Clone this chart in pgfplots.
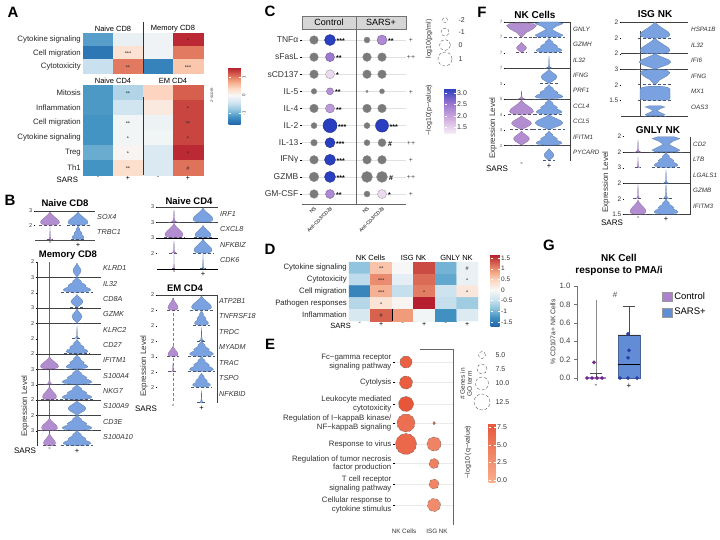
\documentclass[border=0pt]{standalone}
\usepackage{fontspec}
\setmainfont{Liberation Sans}
\setsansfont{Liberation Sans}
\usepackage{pgfplots}
\pgfplotsset{compat=1.18}
\usepackage{pgfplotstable}

\definecolor{vpur}{RGB}{178,142,208}
\definecolor{vblu}{RGB}{122,162,224}
\definecolor{gpur}{RGB}{172,130,206}
\definecolor{gblu}{RGB}{98,140,214}
\definecolor{dgray}{RGB}{122,122,122}
\definecolor{hdr}{RGB}{214,214,214}
\definecolor{cdot}{RGB}{110,40,140}
\definecolor{sdot}{RGB}{40,62,168}

\tikzset{glab/.style={anchor=west, font=\fontsize{7.2}{8}\selectfont\itshape, text=black!80, inner sep=0pt},
  glabs/.style={anchor=west, font=\fontsize{6.3}{7}\selectfont\itshape, text=black!80, inner sep=0pt}}

\pgfplotsset{
  colormap={rdbu}{rgb255=(33,102,172) rgb255=(67,147,195) rgb255=(146,197,222) rgb255=(209,229,240) rgb255=(247,247,247) rgb255=(253,219,199) rgb255=(244,165,130) rgb255=(214,96,77) rgb255=(178,24,43)},
  colormap={pv}{rgb255=(246,234,246) rgb255=(206,172,222) rgb255=(152,116,206) rgb255=(38,62,192)},
  colormap={org}{rgb255=(248,174,140) rgb255=(240,132,100) rgb255=(232,86,58)},
  /pgf/number format/assume math mode=true,
  base/.style={anchor=north west, scale only axis, clip=false, y dir=reverse,
    axis line style={draw=none}, tick style={black, line width=0.3pt},
    ticklabel style={font=\fontsize{6}{7}\selectfont}},
  vp/.style={base, ytick pos=left, xtick pos=bottom, tick align=outside,
    major tick length=1.5pt, yticklabel style={font=\fontsize{5.5}{6}\selectfont, inner sep=1pt, text=black!80},
    xtick style={draw=none}, xticklabel style={font=\fontsize{7.5}{8}\selectfont, inner sep=1pt}},
  hm/.style={base, major tick length=0pt, colormap name=rdbu,
    yticklabel style={font=\fontsize{7.8}{8.5}\selectfont, inner sep=2pt, text=black!85},
    xticklabel style={font=\fontsize{7}{8}\selectfont, inner sep=1pt}},
  stars/.style={only marks, mark=none, point meta=explicit symbolic, nodes near coords,
    every node near coord/.append style={anchor=center, font=\fontsize{5.5}{6}\selectfont, inner sep=0pt, text=black!85, yshift=-0.8pt}},
  starsw/.style={only marks, mark=none, point meta=explicit symbolic, nodes near coords,
    every node near coord/.append style={anchor=west, font=\fontsize{7}{8}\selectfont\bfseries, inner sep=0pt, text=black, yshift=-1.2pt}},
  gleg/.style={legend image code/.code={\draw[##1] (0pt,-4.5pt) rectangle (10pt,4.5pt);}},
  cbhost/.style={anchor=north west, hide axis, scale only axis, width=1pt, height=1pt, xmin=0, xmax=1, ymin=0, ymax=1, colorbar},
  cbar/.style={at={(parent axis.north west)}, anchor=north west, scale only axis, axis line style={draw=none},
    tick style={draw=white, line width=0.4pt}, major tick length=2pt,
    yticklabel style={font=\fontsize{6.5}{7}\selectfont, text=black!80, inner sep=1.5pt}},
}

% violin outlines: x = half-width fraction, y = height fraction above baseline
\pgfplotstableread{
x y
0 0
0.55 0
0.9 0.08
1 0.2
0.92 0.35
0.7 0.5
0.45 0.65
0.22 0.8
0.08 0.92
0.02 1
-0.02 1
-0.08 0.92
-0.22 0.8
-0.45 0.65
-0.7 0.5
-0.92 0.35
-1 0.2
-0.9 0.08
-0.55 0
0 0
}\shBell
\pgfplotstableread{
x y
0 0
0.35 0
0.85 0.06
1 0.15
0.85 0.27
0.6 0.35
0.65 0.45
0.5 0.55
0.3 0.65
0.3 0.75
0.12 0.87
0.02 1
-0.02 1
-0.12 0.87
-0.3 0.75
-0.3 0.65
-0.5 0.55
-0.65 0.45
-0.6 0.35
-0.85 0.27
-1 0.15
-0.85 0.06
-0.35 0
0 0
}\shTree
\pgfplotstableread{
x y
0 0
0.05 0
0.35 0.12
0.8 0.28
1 0.45
0.85 0.6
0.5 0.75
0.15 0.9
0.02 1
-0.02 1
-0.15 0.9
-0.5 0.75
-0.85 0.6
-1 0.45
-0.8 0.28
-0.35 0.12
-0.05 0
0 0
}\shDiamond
\pgfplotstableread{
x y
0 0
0.6 0
0.3 0.05
0.12 0.2
0.06 0.5
0.02 1
-0.02 1
-0.06 0.5
-0.12 0.2
-0.3 0.05
-0.6 0
0 0
}\shSpike
\pgfplotstableread{
x y
0 0
0.05 0
0.3 0.3
0.75 0.55
1 0.8
0.8 0.95
0.3 1
-0.3 1
-0.8 0.95
-1 0.8
-0.75 0.55
-0.3 0.3
-0.05 0
0 0
}\shInv
\pgfplotstableread{
x y
0 0
0.8 0
1 0.12
0.5 0.35
0.2 0.5
0.5 0.7
1 0.88
0.6 1
-0.6 1
-1 0.88
-0.5 0.7
-0.2 0.5
-0.5 0.35
-1 0.12
-0.8 0
0 0
}\shHour
\pgfplotstableread{
x y
0 0
0.7 0
1 0.08
1 0.8
0.85 0.92
0.4 1
-0.4 1
-0.85 0.92
-1 0.8
-1 0.08
-0.7 0
0 0
}\shRect
\pgfplotstableread{
x y
-1.15 0
1.15 0
}\shBase

\newcommand{\vio}[6]{%
  \addplot[fill=#2, draw=#2!70!black, line width=0.2pt] table[x expr={#3+#5*(\thisrow{x})}, y expr={#4-#6*(\thisrow{y})}] {#1};%
  \addplot[densely dashed, draw=#2!55!black, line width=0.35pt] table[x expr={#3+#5*(\thisrow{x})}, y expr={#4}] {\shBase};%
}
\newcommand{\hl}[4][black!75,line width=0.5pt]{\addplot[#1] coordinates {(#2,#4) (#3,#4)};}
\newcommand{\vl}[4][black!75,line width=0.5pt]{\addplot[#1] coordinates {(#2,#3) (#2,#4)};}
\newcommand{\gl}[3]{\node[glab] at (axis cs:#1,#2) {#3};}
\newcommand{\gls}[3]{\node[glabs] at (axis cs:#1,#2) {#3};}
\newcommand{\lab}[4][]{\node[#1] at (#2pt,-#3pt) {#4};}

\begin{document}
\begin{tikzpicture}[font=\fontsize{7}{8}\selectfont]
\path[use as bounding box] (0,0) rectangle (720pt,-539pt);

%%%%%%%%%%%%%%%% A
\begin{axis}[hm, at={(83pt,-33pt)}, width=120pt, height=40pt,
  xmin=-0.5, xmax=3.5, ymin=-0.5, ymax=2.5, xtick=\empty,
  ytick={0,1,2}, yticklabels={Cytokine signaling,Cell migration,Cytotoxicity},
  point meta min=-1.6, point meta max=1.6]
\addplot[matrix plot*, mesh/cols=4, point meta=explicit] table[meta=c]{
x y c
0 0 -1.1
1 0 -0.15
2 0 -0.08
3 0 1.5
0 1 -1.45
1 1 0.3
2 1 -0.08
3 1 1.05
0 2 -0.45
1 2 1.05
2 2 -1.35
3 2 0.55
};
\addplot[stars] coordinates {(3,0)[*] (1,1)[***] (1,2)[**] (3,2)[***]};
\vl[black!80,line width=0.7pt]{1.5}{-1.3}{2.5}
\node[anchor=south, font=\fontsize{7.5}{8}\selectfont, inner sep=1.2pt] at (axis cs:0.5,-0.5) {Naive CD8};
\node[anchor=south, font=\fontsize{7.5}{8}\selectfont, inner sep=1.2pt] at (axis cs:2.5,-0.5) {Memory CD8};
\end{axis}

\begin{axis}[hm, at={(83pt,-85pt)}, width=120pt, height=90pt,
  xmin=-0.5, xmax=3.5, ymin=-0.5, ymax=5.5, xtick={0,1,2,3}, xticklabels={-,+,-,+},
  ytick={0,1,2,3,4,5}, yticklabels={Mitosis,Inflammation,Cell migration,Cytokine signaling,Treg,Th1},
  point meta min=-1.6, point meta max=1.6]
\addplot[matrix plot*, mesh/cols=4, point meta=explicit] table[meta=c]{
x y c
0 0 -1.15
1 0 -0.6
2 0 0.45
3 0 1.2
0 1 -1.15
1 1 -0.4
2 1 0.2
3 1 1.35
0 2 -1.2
1 2 -0.05
2 2 -0.1
3 2 1.35
0 3 -1.2
1 3 -0.05
2 3 -0.05
3 3 1.35
0 4 -1.0
1 4 0.05
2 4 -0.3
3 4 1.5
0 5 -1.2
1 5 0.35
2 5 -0.3
3 5 1.1
};
\addplot[stars] coordinates {(1,0)[**] (3,1)[*] (1,2)[**] (3,2)[**] (1,3)[*] (3,3)[*] (1,4)[*] (3,4)[*] (1,5)[**] (3,5)[\#]};
\vl[black!80,line width=0.7pt]{1.5}{0.3}{5.5}
\node[anchor=south, font=\fontsize{7.5}{8}\selectfont, inner sep=1.2pt] at (axis cs:0.5,-0.5) {Naive CD4};
\node[anchor=south, font=\fontsize{7.5}{8}\selectfont, inner sep=1.2pt] at (axis cs:2.5,-0.5) {EM CD4};
\node[anchor=east, font=\fontsize{7.8}{8.5}\selectfont] at (axis cs:-0.55,5.85) {SARS};
\end{axis}

\begin{axis}[cbhost, at={(220pt,-67pt)}, colormap name=rdbu, point meta min=-1.6, point meta max=1.6,
  colorbar style={cbar, width=12pt, height=57pt, ytick={-1,0,1}, yticklabel style={font=\fontsize{4.5}{5}\selectfont, rotate=90}}]
\addplot[draw=none] coordinates {(0,0)};
\end{axis}
\lab[rotate=90, font=\fontsize{4.5}{5}\selectfont, text=black!70]{212}{95}{z-score}

%%%%%%%%%%%%%%%% B
\begin{axis}[vp, at={(35pt,-211pt)}, width=60pt, height=29pt, xmin=35, xmax=95, ymin=211, ymax=240,
  ytick={211,225.5}, yticklabels={3,2}, xtick={50,78}, xticklabels={-,+}]
\hl{35}{95}{211}
\vio{\shBell}{vpur}{50}{225}{9.5}{13}
\vio{\shBell}{vblu}{78}{225}{10}{13}
\vio{\shSpike}{vpur}{50}{239.5}{3}{13}
\vio{\shTree}{vblu}{78}{239.5}{6}{14}
\hl[black!70,line width=0.4pt]{35}{95}{240}
\gl{97}{217}{SOX4}
\gl{97}{232}{TRBC1}
\end{axis}

\begin{axis}[vp, at={(37pt,-262pt)}, width=64pt, height=184pt, xmin=37, xmax=101, ymin=262, ymax=446,
  ytick={262,277.3,292.7,308,323.3,338.7,354,369.3,384.7,400,415.3,430.7},
  yticklabels={2,3,2,3,2,2,2,3,3,2,2,3}, xtick={49.5,77}, xticklabels={-,+}]
\vl[black!80,line width=0.5pt]{37}{262}{446}
\vl[black!60,line width=0.4pt]{49.5}{262}{446}
\hl{37}{101}{277.3}
\hl{37}{101}{308}
\hl{37}{101}{323.3}
\hl{37}{101}{354}
\hl{37}{101}{369.3}
\hl{37}{101}{384.7}
\hl{37}{101}{400}
\hl{37}{101}{415.3}
\hl{37}{101}{430.7}
\vio{\shDiamond}{vblu}{77}{277}{4}{14}
\vio{\shTree}{vblu}{77}{292.2}{14}{15}
\vio{\shDiamond}{vblu}{77}{307.5}{6}{13}
\vio{\shDiamond}{vblu}{77}{322.8}{5}{14}
\vio{\shSpike}{vblu}{77}{338.2}{4}{12}
\vio{\shTree}{vblu}{77}{353.5}{11}{14}
\vio{\shBell}{vpur}{49.5}{368.8}{9}{12}
\vio{\shTree}{vblu}{77}{368.8}{11}{14}
\vio{\shSpike}{vpur}{49.5}{384.2}{5}{12}
\vio{\shTree}{vblu}{77}{384.2}{15}{15}
\vio{\shBell}{vpur}{49.5}{399.5}{7}{13}
\vio{\shTree}{vblu}{77}{399.5}{15}{15}
\vio{\shDiamond}{vblu}{77}{414.8}{9}{14}
\vio{\shBell}{vpur}{49.5}{430.2}{8}{12}
\vio{\shTree}{vblu}{77}{430.2}{15}{15}
\vio{\shBell}{vpur}{49.5}{445.5}{6}{12}
\vio{\shTree}{vblu}{77}{445.5}{14}{15}
\gl{103}{268.5}{KLRD1}
\gl{103}{283.8}{IL32}
\gl{103}{299.2}{CD8A}
\gl{103}{314.5}{GZMK}
\gl{103}{329.8}{KLRC2}
\gl{103}{345.2}{CD27}
\gl{103}{360.5}{IFITM1}
\gl{103}{375.8}{S100A4}
\gl{103}{391.2}{NKG7}
\gl{103}{406.5}{S100A9}
\gl{103}{421.8}{CD3E}
\gl{103}{437.2}{S100A10}
\end{axis}

\begin{axis}[vp, at={(157pt,-207pt)}, width=61pt, height=62pt, xmin=157, xmax=218, ymin=207, ymax=269,
  ytick={207,222.5,238,253.5}, yticklabels={3,3,3,2}, xtick={174,203}, xticklabels={-,+}]
\hl{157}{218}{207}
\hl{157}{218}{222.5}
\hl[black,line width=0.8pt]{157}{218}{238}
\hl[black,line width=0.8pt]{157}{218}{269}
\vio{\shSpike}{vpur}{174}{222}{5}{12}
\vio{\shBell}{vblu}{203}{222}{10}{14}
\vio{\shBell}{vpur}{174}{237.5}{9}{14}
\vio{\shBell}{vblu}{203}{237.5}{8}{12}
\vio{\shSpike}{vpur}{174}{253}{4}{12}
\vio{\shBell}{vblu}{203}{253}{9}{14}
\vio{\shSpike}{vpur}{174}{268.5}{1.5}{14}
\vio{\shSpike}{vblu}{203}{268.5}{3}{14}
\gl{220}{214}{IRF1}
\gl{220}{229.5}{CXCL8}
\gl{220}{245}{NFKBIZ}
\gl{220}{260.5}{CDK6}
\end{axis}

\begin{axis}[vp, at={(157pt,-295pt)}, width=60pt, height=108pt, xmin=157, xmax=217, ymin=295, ymax=403,
  ytick={295,310.4,325.9,341.3,356.7,372.1,387.6}, yticklabels={2,2,2,2,3,2,2}, xtick={173,201.5}, xticklabels={-,+}]
\hl{157}{217}{295}
\vl{217}{295}{403}
\vl[densely dashed, black!50, line width=0.4pt]{173}{298}{403}
\vio{\shBell}{vpur}{173}{310}{5}{12}
\vio{\shBell}{vblu}{201.5}{310}{10}{14}
\vio{\shTree}{vblu}{201.5}{325.4}{7}{15}
\vio{\shSpike}{vblu}{201.5}{340.8}{4}{13}
\vio{\shBell}{vpur}{173}{356.2}{5}{10}
\vio{\shTree}{vblu}{201.5}{356.2}{12}{15}
\vio{\shSpike}{vpur}{173}{371.6}{4}{9}
\vio{\shTree}{vblu}{201.5}{371.6}{12}{15}
\vio{\shTree}{vblu}{201.5}{387.1}{9}{14}
\vio{\shSpike}{vblu}{201.5}{402.5}{4}{12}
\gl{219}{301}{ATP2B1}
\gl{219}{316.4}{TNFRSF18}
\gl{219}{331.9}{TRDC}
\gl{219}{347.3}{MYADM}
\gl{219}{362.7}{TRAC}
\gl{219}{378.1}{TSPO}
\gl{219}{393.6}{NFKBID}
\end{axis}

%%%%%%%%%%%%%%%% C
\begin{axis}[base, at={(302pt,-29pt)}, width=104pt, height=175pt, xmin=302, xmax=406, ymin=29, ymax=204,
  ytick={40,57.1,74.2,91.3,108.4,125.6,142.7,159.8,176.9,194},
  yticklabels={TNFα,sFasL,sCD137,IL-5,IL-4,IL-2,IL-13,IFNγ,GZMB,GM-CSF},
  ytick pos=left, tick align=outside, major tick length=2pt,
  yticklabel style={font=\fontsize{8.5}{9}\selectfont, text=black!80, inner sep=1.5pt},
  ymajorgrids, grid style={black!12, line width=0.5pt},
  xtick={314,330,367,382}, xticklabels={NS,Anti-CD3/CD28,NS,Anti-CD3/CD28}, xtick pos=bottom, xtick style={draw=none},
  xticklabel style={rotate=45, anchor=north east, font=\fontsize{4.8}{5.5}\selectfont, inner sep=0.3pt},
  colormap name=pv, point meta min=1.24, point meta max=3.22]
\addplot[scatter, only marks, mark=*, point meta=0, scatter/use mapped color={draw=black!45, fill=dgray},
  visualization depends on={\thisrow{r}\as\rr}, scatter/@pre marker code/.append style={/tikz/mark size=\rr}] table{
x y r
314 40 4.3
367 40 3
314 57.1 4.3
367 57.1 4.3
382 57.1 4.3
314 74.2 4.3
367 74.2 4.3
382 74.2 4.3
314 91.3 2.8
367 91.3 1.2
382 91.3 2.5
314 108.4 4.3
367 108.4 4.3
382 108.4 4.3
314 125.6 3
367 125.6 3
314 142.7 3.3
367 142.7 3
382 142.7 4
314 159.8 4.3
367 159.8 4.3
382 159.8 4.3
314 176.9 4.8
367 176.9 5.5
382 176.9 5.5
314 194 4.3
367 194 3
};
\addplot[scatter, only marks, mark=*, point meta=\thisrow{p}, scatter/use mapped color={draw=mapped color!70!black, fill=mapped color},
  visualization depends on={\thisrow{r}\as\rr}, scatter/@pre marker code/.append style={/tikz/mark size=\rr}] table{
x y r p
330 40 5.5 3.2
382 40 5 2.3
330 57.1 4.5 2.5
330 74.2 4.5 1.4
330 91.3 3.5 2.2
330 108.4 4.5 2.1
330 125.6 7 3.2
382 125.6 6.5 3.2
330 142.7 5 3.2
330 159.8 5.5 3.2
330 176.9 5.5 3.2
330 194 4.5 2.3
382 194 4.5 1.4
};
\addplot[starsw] coordinates {(336.5,40)[***] (336,57.1)[**] (336,74.2)[*] (335,91.3)[**] (336,108.4)[**] (338,125.6)[***] (336,142.7)[***] (336.5,159.8)[***] (336.5,176.9)[***] (336,194)[**]
 (388,40)[**] (389.5,125.6)[***] (388,142.7)[\#] (389,176.9)[\#] (388,194)[*]};
\addplot[stars, every node near coord/.append style={font=\fontsize{7}{8}\selectfont, text=black!70}] coordinates {(411,40)[+] (411,57.1)[++] (411,91.3)[+] (411,142.7)[++] (411,159.8)[+] (411,176.9)[++] (411,194)[+]};
\vl[black!60,line width=0.6pt]{356}{29}{204}
\hl[black!60,line width=0.6pt]{302}{406}{204}
\node[draw=black!55, fill=hdr, minimum width=54pt, minimum height=13pt, inner sep=0pt, font=\fontsize{9}{10}\selectfont] at (axis cs:329,22.5) {Control};
\node[draw=black!55, fill=hdr, minimum width=50pt, minimum height=13pt, inner sep=0pt, font=\fontsize{9}{10}\selectfont] at (axis cs:381,22.5) {SARS+};
\end{axis}

\begin{axis}[cbhost, at={(436pt,-88pt)}, colormap name=pv, point meta min=1.24, point meta max=3.22,
  colorbar style={cbar, width=11pt, height=45pt, ytick={1.5,2,2.5,3},
   yticklabel style={/pgf/number format/fixed, /pgf/number format/fixed zerofill, /pgf/number format/precision=1, font=\fontsize{7}{8}\selectfont}}]
\addplot[draw=none] coordinates {(0,0)};
\end{axis}
\lab[rotate=90, font=\fontsize{7}{8}\selectfont, text=black!80]{429}{110}{−log10(p−value)}
\lab[rotate=90, font=\fontsize{7}{8}\selectfont, text=black!80]{429}{39}{log10(pg/ml)}

%%%%%%%%%%%%%%%% D
\begin{axis}[hm, at={(349pt,-262pt)}, width=129pt, height=59pt,
  xmin=-0.5, xmax=5.5, ymin=-0.5, ymax=4.5, xtick={0,1,2,3,4,5}, xticklabels={-,+,-,+,-,+},
  ytick={0,1,2,3,4}, yticklabels={Cytokine signaling,Cytotoxicity,Cell migration,Pathogen responses,Inflammation},
  yticklabel style={font=\fontsize{7.8}{8.5}\selectfont},
  point meta min=-1.69, point meta max=1.69]
\addplot[matrix plot*, mesh/cols=6, point meta=explicit] table[meta=c]{
x y c
0 0 -0.85
1 0 0.6
2 0 0.0
3 0 1.4
4 0 -1.0
5 0 -0.15
0 1 -0.55
1 1 1.0
2 1 -0.2
3 1 1.2
4 1 -1.1
5 1 -0.15
0 2 -1.4
1 2 0.75
2 2 -0.5
3 2 1.1
4 2 -0.45
5 2 0.25
0 3 -0.6
1 3 0.3
2 3 0.05
3 3 1.65
4 3 -0.5
5 3 -0.75
0 4 -0.35
1 4 1.25
2 4 0.9
3 4 -0.05
4 4 -1.3
5 4 -0.3
};
\addplot[stars] coordinates {(1,0)[**] (5,0)[\#] (1,1)[***] (5,1)[*] (1,2)[***] (3,2)[*] (5,2)[*] (1,3)[*] (1,4)[\#]};
\vl[black,line width=0.8pt]{1.5}{3.5}{4.5}
\node[anchor=south, font=\fontsize{7.5}{8}\selectfont, inner sep=1.2pt] at (axis cs:0.5,-0.5) {NK Cells};
\node[anchor=south, font=\fontsize{7.5}{8}\selectfont, inner sep=1.2pt] at (axis cs:2.5,-0.5) {ISG NK};
\node[anchor=south, font=\fontsize{7.5}{8}\selectfont, inner sep=1.2pt] at (axis cs:4.5,-0.5) {GNLY NK};
\node[anchor=east, font=\fontsize{7.5}{8}\selectfont] at (axis cs:-0.25,4.95) {SARS};
\end{axis}

\begin{axis}[cbhost, at={(482pt,-254pt)}, colormap name=rdbu, point meta min=-1.69, point meta max=1.69,
  colorbar style={cbar, width=9pt, height=72pt, ytick={-1.5,-1,-0.5,0,0.5,1,1.5}, yticklabel style={font=\fontsize{6.5}{7}\selectfont}}]
\addplot[draw=none] coordinates {(0,0)};
\end{axis}

%%%%%%%%%%%%%%%% E
\begin{axis}[base, at={(395pt,-349pt)}, width=58pt, height=176pt, xmin=395, xmax=453, ymin=349, ymax=525,
  ytick={362,382.5,404,423,444,463.5,484,505},
  yticklabels={{Fc−gamma receptor\\signaling pathway},Cytolysis,{Leukocyte mediated\\cytotoxicity},{Regulation of I−kappaB kinase/\\NF−kappaB signaling},Response to virus,{Regulation of tumor necrosis\\factor production},{T cell receptor\\signaling pathway},{Cellular response to\\cytokine stimulus}},
  ytick pos=left, tick align=outside, major tick length=2pt,
  yticklabel style={align=right, font=\fontsize{7.8}{8.3}\selectfont, text=black!80, inner sep=1.5pt},
  ymajorgrids, grid style={black!8, line width=0.5pt},
  xtick={404,437}, xticklabels={NK Cells,ISG NK}, xtick pos=bottom, xtick style={draw=none},
  xticklabel style={font=\fontsize{6.3}{7}\selectfont, text=black!80, inner sep=2pt},
  colormap name=org, point meta min=-0.26, point meta max=8.1]
\addplot[scatter, only marks, mark=*, point meta=\thisrow{q}, scatter/use mapped color={draw=black!60, fill=mapped color},
  mark options={densely dashed, line width=0.35pt},
  visualization depends on={\thisrow{r}\as\rr}, scatter/@pre marker code/.append style={/tikz/mark size=\rr}] table{
x y r q
406 362 6 7.2
406 382.5 6.5 7.5
406 404 7.5 8.1
406 423 9 5.8
406 444 10.5 6.5
434 423 1.5 7.5
434 444 7 4
434 463.5 5 4.2
434 484 5 3.8
434 505 6.5 3.2
};
\vl[black!60,line width=0.6pt]{453}{349}{525}
\hl[black!60,line width=0.6pt]{420}{453}{349}
\end{axis}

\begin{axis}[cbhost, at={(480pt,-423pt)}, colormap name=org, point meta min=-0.26, point meta max=8.1,
  colorbar style={cbar, width=7pt, height=59pt, ytick={0,2.5,5,7.5},
   yticklabel style={/pgf/number format/fixed, /pgf/number format/fixed zerofill, /pgf/number format/precision=1, font=\fontsize{7}{8}\selectfont}}]
\addplot[draw=none] coordinates {(0,0)};
\end{axis}
\lab[rotate=90, align=center, font=\fontsize{6.5}{7}\selectfont, text=black!80]{466}{384}{\# Genes in\\GO term}
\lab[rotate=90, font=\fontsize{7}{8}\selectfont, text=black!80]{468}{452}{−log10 (q−value)}

%%%%%%%%%%%%%%%% overlay legends (C and E size keys)
\begin{axis}[base, at={(0pt,0pt)}, width=720pt, height=539pt, xmin=0, xmax=720, ymin=0, ymax=539, hide axis]
\addplot[only marks, mark=o, mark size=2.5pt, mark options={densely dashed, draw=black!70, line width=0.35pt}] coordinates {(445,20)};
\addplot[only marks, mark=o, mark size=4pt, mark options={densely dashed, draw=black!70, line width=0.35pt}] coordinates {(445,32)};
\addplot[only marks, mark=o, mark size=5.5pt, mark options={densely dashed, draw=black!70, line width=0.35pt}] coordinates {(445,45)};
\addplot[only marks, mark=o, mark size=7pt, mark options={densely dashed, draw=black!70, line width=0.35pt}] coordinates {(445,59)};
\addplot[only marks, mark=o, mark size=3.5pt, mark options={densely dashed, draw=black!70, line width=0.35pt}] coordinates {(482,355)};
\addplot[only marks, mark=o, mark size=5pt, mark options={densely dashed, draw=black!70, line width=0.35pt}] coordinates {(482,369)};
\addplot[only marks, mark=o, mark size=6.5pt, mark options={densely dashed, draw=black!70, line width=0.35pt}] coordinates {(482,383.5)};
\addplot[only marks, mark=o, mark size=8pt, mark options={densely dashed, draw=black!70, line width=0.35pt}] coordinates {(482,402)};
\end{axis}
\lab[anchor=west, font=\fontsize{7}{8}\selectfont, text=black!80]{455}{20}{-2}
\lab[anchor=west, font=\fontsize{7}{8}\selectfont, text=black!80]{455}{32}{-1}
\lab[anchor=west, font=\fontsize{7}{8}\selectfont, text=black!80]{455}{45}{0}
\lab[anchor=west, font=\fontsize{7}{8}\selectfont, text=black!80]{455}{59}{1}
\lab[anchor=west, font=\fontsize{7}{8}\selectfont, text=black!80]{492}{355}{5.0}
\lab[anchor=west, font=\fontsize{7}{8}\selectfont, text=black!80]{492}{369}{7.5}
\lab[anchor=west, font=\fontsize{7}{8}\selectfont, text=black!80]{492}{383.5}{10.0}
\lab[anchor=west, font=\fontsize{7}{8}\selectfont, text=black!80]{492}{402}{12.5}

%%%%%%%%%%%%%%%% F
\begin{axis}[vp, at={(505pt,-22pt)}, width=65pt, height=139pt, xmin=505, xmax=570, ymin=22, ymax=161,
  ytick={22,37.4,52.9,68.3,83.8,99.2,114.7,130.1,145.6}, yticklabels={7,7,7,7,3,5,4,3,2},
  yticklabel style={font=\fontsize{4.5}{5}\selectfont, text=black!60},
  xtick={521.5,549}, xticklabels={-,+}]
\hl{505}{570}{22}
\hl{505}{570}{68.3}
\hl{505}{570}{99.2}
\hl{505}{570}{145.6}
\vl{570}{22}{161}
\vio{\shInv}{vpur}{521.5}{36.9}{15}{14}
\vio{\shHour}{vblu}{549}{36.9}{14}{15}
\vio{\shDiamond}{vpur}{521.5}{52.4}{5}{10}
\vio{\shTree}{vblu}{549}{52.4}{13}{14}
\vio{\shSpike}{vblu}{549}{67.8}{4}{12}
\vio{\shDiamond}{vblu}{549}{83.3}{8}{14}
\vio{\shSpike}{vpur}{521.5}{98.7}{5}{8}
\vio{\shTree}{vblu}{549}{98.7}{14}{14}
\vio{\shBell}{vpur}{521.5}{114.2}{12}{14}
\vio{\shTree}{vblu}{549}{114.2}{13}{15}
\vio{\shDiamond}{vpur}{521.5}{129.6}{10}{14}
\vio{\shDiamond}{vblu}{549}{129.6}{14}{15}
\vio{\shDiamond}{vpur}{521.5}{145.1}{8}{14}
\vio{\shTree}{vblu}{549}{145.1}{13}{14}
\vio{\shDiamond}{vblu}{549}{160.5}{5}{12}
\gls{573}{29}{GNLY}
\gls{573}{44.4}{GZMH}
\gls{573}{59.9}{IL32}
\gls{573}{75.3}{IFNG}
\gls{573}{90.8}{PRF1}
\gls{573}{106.2}{CCL4}
\gls{573}{121.7}{CCL5}
\gls{573}{137.1}{IFITM1}
\gls{573}{152.6}{PYCARD}
\end{axis}

\begin{axis}[vp, at={(621pt,-22.5pt)}, width=67pt, height=93.5pt, xmin=621, xmax=688, ymin=22.5, ymax=116,
  ytick={22.5,38.1,53.7,69.2,84.8,100.4}, yticklabels={2,2,2,3,2,1.5},
  yticklabel style={font=\fontsize{6.5}{7}\selectfont}, xtick=\empty]
\hl{621}{688}{22.5}
\hl{621}{688}{53.7}
\hl{621}{688}{69.2}
\hl{621}{688}{116}
\vl[black!70,line width=0.5pt]{640}{31}{116}
\vio{\shBell}{vblu}{655}{38}{15}{16}
\vio{\shBell}{vblu}{655}{53.5}{15}{15.5}
\vio{\shDiamond}{vblu}{655}{69}{16}{15.5}
\vio{\shInv}{vblu}{655}{84.6}{15}{15}
\vio{\shRect}{vblu}{655}{100.2}{15}{14}
\vio{\shHour}{vblu}{655}{115.8}{10}{10}
\gls{691}{29.5}{HSPA1B}
\gls{691}{45.1}{IL32}
\gls{691}{60.7}{IFI6}
\gls{691}{76.2}{IFNG}
\gls{691}{91.8}{MX1}
\gls{691}{107.4}{OAS3}
\end{axis}

\begin{axis}[vp, at={(624pt,-136.5pt)}, width=66pt, height=78pt, xmin=624, xmax=690, ymin=136.5, ymax=214.5,
  ytick={136.5,152.1,167.7,183.3,198.9,214.5}, yticklabels={2,2,3,2,2,1.5},
  yticklabel style={font=\fontsize{6.5}{7}\selectfont}, xtick={638,666}, xticklabels={-,+}]
\hl{624}{690}{152.1}
\hl{624}{690}{183.3}
\hl{624}{690}{214.5}
\vl{690}{136.5}{214.5}
\vio{\shSpike}{vpur}{638}{151.8}{4}{12}
\vio{\shHour}{vblu}{666}{151.8}{14}{15}
\vio{\shSpike}{vpur}{638}{167.4}{3}{10}
\vio{\shTree}{vblu}{666}{167.4}{12}{15}
\vio{\shSpike}{vblu}{666}{183}{4}{13}
\vio{\shSpike}{vpur}{638}{198.6}{4}{14}
\vio{\shSpike}{vblu}{666}{198.6}{6}{14}
\vio{\shBell}{vpur}{638}{214.2}{8}{14}
\vio{\shTree}{vblu}{666}{214.2}{12}{15}
\gls{693}{144}{CD2}
\gls{693}{159.6}{LTB}
\gls{693}{175.2}{LGALS1}
\gls{693}{190.8}{GZMB}
\gls{693}{206.4}{IFITM3}
\end{axis}

%%%%%%%%%%%%%%%% G
\begin{axis}[anchor=north west, at={(577pt,-286pt)}, scale only axis, width=73pt, height=94.76pt, clip=false,
  xmin=0, xmax=73, ymin=-0.03, ymax=1,
  axis x line=none, axis y line*=left, y axis line style={black!55, line width=0.5pt},
  ytick={0,0.2,0.4,0.6,0.8,1},
  yticklabel style={/pgf/number format/fixed, /pgf/number format/fixed zerofill, /pgf/number format/precision=1, font=\fontsize{7.8}{8.5}\selectfont, text=black!75},
  tick style={black!55, line width=0.5pt}, major tick length=3pt, tick align=outside,
  legend style={at={(1.16,0.95)}, anchor=north west, draw=none, fill=none, font=\fontsize{9.5}{10}\selectfont, row sep=3pt, inner sep=0pt},
  legend cell align=left]
\addlegendimage{gleg, fill=gpur, draw=black!40}
\addlegendentry{Control}
\addlegendimage{gleg, fill=gblu, draw=black!40}
\addlegendentry{SARS+}
% Control: thin line, whisker, flat box
\vl[black!45,line width=0.6pt]{19}{0}{0.85}
\vl[black!70,line width=0.5pt]{19}{0}{0.05}
\hl[black!70,line width=0.5pt]{13}{25}{0.05}
\hl[gpur,line width=1.4pt]{9}{29}{0}
% SARS+: box, median, whisker
\addplot[fill=gblu, draw=gblu!70!black, line width=0.5pt] coordinates {(41,0) (63,0) (63,0.47) (41,0.47) (41,0)};
\hl[black!80,line width=0.5pt]{41}{63}{0.47}
\hl[black,line width=0.8pt]{41}{63}{0.15}
\vl[black!70,line width=0.5pt]{52}{0.47}{0.78}
\hl[black!70,line width=0.5pt]{46}{58}{0.78}
\addplot[only marks, mark=*, mark size=1.7pt, cdot] coordinates {(10,0) (15,0) (20,0) (25,0) (17,0.17)};
\addplot[only marks, mark=*, mark size=1.7pt, sdot] coordinates {(43,0) (51,0) (60,0) (51,0.48) (52,0.30) (51,0.22)};
\node[font=\fontsize{8}{9}\selectfont, text=black!70] at (axis cs:38,0.9) {\#};
\node[font=\fontsize{8}{9}\selectfont] at (axis cs:19,-0.09) {-};
\node[font=\fontsize{8}{9}\selectfont] at (axis cs:52,-0.09) {+};
\end{axis}
\lab[rotate=90, font=\fontsize{6.8}{7.5}\selectfont, text=black!80]{553}{332}{\% CD107a+ NK Cells}

%%%%%%%%%%%%%%%% global text
\lab[font=\fontsize{15}{15}\selectfont\bfseries]{13}{12}{A}
\lab[font=\fontsize{15}{15}\selectfont\bfseries]{10}{200}{B}
\lab[font=\fontsize{15}{15}\selectfont\bfseries]{270}{11}{C}
\lab[font=\fontsize{15}{15}\selectfont\bfseries]{270}{249}{D}
\lab[font=\fontsize{15}{15}\selectfont\bfseries]{270}{344}{E}
\lab[font=\fontsize{15}{15}\selectfont\bfseries]{482}{12}{F}
\lab[font=\fontsize{15}{15}\selectfont\bfseries]{549}{245}{G}

\lab[font=\fontsize{9.5}{10}\selectfont\bfseries]{65}{203}{Naive CD8}
\lab[font=\fontsize{9.5}{10}\selectfont\bfseries]{68}{255}{Memory CD8}
\lab[font=\fontsize{9.5}{10}\selectfont\bfseries]{189}{201}{Naive CD4}
\lab[font=\fontsize{9.5}{10}\selectfont\bfseries]{185}{288}{EM CD4}
\lab[font=\fontsize{8}{9}\selectfont]{25}{451}{SARS}
\lab[font=\fontsize{8}{9}\selectfont]{146}{409}{SARS}
\lab[rotate=90, font=\fontsize{8}{9}\selectfont, text=black!80]{25}{406}{Expression Level}
\lab[rotate=90, font=\fontsize{8}{9}\selectfont, text=black!80]{144}{366}{Expression Level}

\lab[font=\fontsize{10}{11}\selectfont\bfseries]{535}{14.5}{NK Cells}
\lab[font=\fontsize{10}{11}\selectfont\bfseries]{655}{14}{ISG NK}
\lab[font=\fontsize{10}{11}\selectfont\bfseries]{658}{130}{GNLY NK}
\lab[font=\fontsize{8}{9}\selectfont]{497}{169}{SARS}
\lab[font=\fontsize{8}{9}\selectfont]{612}{223}{SARS}
\lab[rotate=90, font=\fontsize{8}{9}\selectfont, text=black!80]{493}{128}{Expression Level}
\lab[rotate=90, font=\fontsize{8}{9}\selectfont, text=black!80]{606}{182}{Expression Level}

\lab[font=\fontsize{10}{11}\selectfont\bfseries]{619}{258}{NK Cell}
\lab[font=\fontsize{10}{11}\selectfont\bfseries]{619}{271}{response to PMA/i}
\end{tikzpicture}
\end{document}
